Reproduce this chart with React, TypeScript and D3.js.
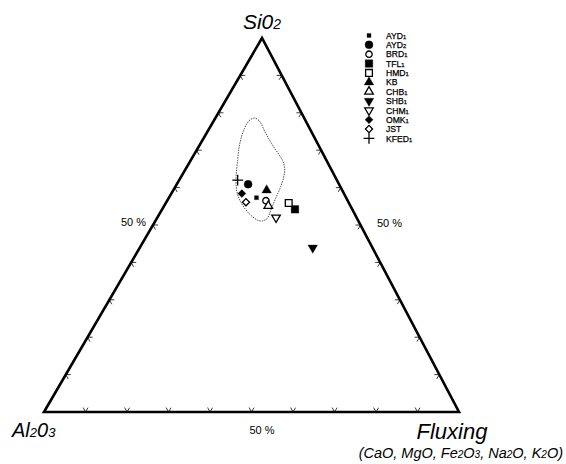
import React from "react";
import * as d3 from "d3";

// samples (legend order) with ternary composition in %
const samples = ["AYD", "AYD", "BRD", "TFL", "HMD", "KB", "CHB", "SHB", "CHM", "OMK", "JST", "KFED"];
const subs = ["1", "2", "1", "1", "1", "", "1", "1", "1", "1", "", "1"];
const sio2 = [57.3, 60.9, 56.5, 54.2, 55.9, 59.3, 55.1, 43.9, 52.0, 58.4, 56.1, 62.0];
const al2o3 = [21.6, 21.9, 19.7, 13.8, 14.5, 18.2, 19.8, 14.4, 19.4, 24.6, 24.7, 23.9];
const flux = [21.1, 17.2, 23.8, 32.0, 29.6, 22.5, 25.1, 41.7, 28.6, 17.0, 19.2, 14.1];

// dotted field outline
const fieldSiO2 = [78.6, 77.9, 74.4, 70.8, 67.3, 65.1, 63.3, 60.2, 57.1, 54.0, 51.8, 51.1, 51.3, 53.1, 55.3, 58.4, 62.0, 67.3, 71.7, 75.7, 77.9];
const fieldFlux = [9.4, 10.9, 14.4, 18.2, 22.1, 23.8, 24.6, 25.4, 25.8, 26.3, 26.6, 25.8, 24.5, 21.5, 18.8, 15.9, 13.7, 11.3, 9.5, 8.5, 8.5];

const tickSteps = [10, 20, 30, 40, 50, 60, 70, 80, 90];

const W = 566, H = 464;
const L = { x: 44, y: 412 }, R = { x: 459, y: 412 }, T = { x: 262, y: 38 };
const k = (T.x - L.x) / (R.x - L.x);
const yScale = d3.scaleLinear().domain([0, 100]).range([L.y, T.y]);
const xScale = d3.scaleLinear().domain([0, 100]).range([L.x, R.x]);
const proj = (s: number, f: number): [number, number] => [xScale(f + s * k), yScale(s)];

type Sym = { type: d3.SymbolType; size: number; filled: boolean; rot?: number };
const syms: Sym[] = [
  { type: d3.symbolSquare, size: 16, filled: true },
  { type: d3.symbolCircle, size: 50, filled: true },
  { type: d3.symbolCircle, size: 32, filled: false },
  { type: d3.symbolSquare, size: 58, filled: true },
  { type: d3.symbolSquare, size: 46, filled: false },
  { type: d3.symbolTriangle, size: 40, filled: true },
  { type: d3.symbolTriangle, size: 32, filled: false },
  { type: d3.symbolTriangle, size: 40, filled: true, rot: 180 },
  { type: d3.symbolTriangle, size: 32, filled: false, rot: 180 },
  { type: d3.symbolSquare, size: 32, filled: true, rot: 45 },
  { type: d3.symbolSquare, size: 26, filled: false, rot: 45 },
  { type: d3.symbolPlus, size: 40, filled: false },
];

function Marker({ x, y, s }: { x: number; y: number; s: Sym }) {
  const d = d3.symbol().type(s.type).size(s.size)()!;
  return (
    <path
      d={d}
      transform={`translate(${x},${y})${s.rot ? ` rotate(${s.rot})` : ""}`}
      fill={s.filled ? "#000" : "#fff"}
      stroke="#000"
      strokeWidth={s.filled ? 0.3 : 1.3}
    />
  );
}

const unit = (a: { x: number; y: number }, b: { x: number; y: number }) => {
  const dx = b.x - a.x, dy = b.y - a.y, n = Math.hypot(dx, dy);
  return [dx / n, dy / n];
};

export default function App() {
  const tl = 5;
  const uLT = unit(L, T), uRT = unit(R, T), uTR = unit(T, R), uTL = unit(T, L);
  const ticks: string[] = [];
  tickSteps.forEach((v) => {
    const [bx, by] = proj(0, v);
    ticks.push(`M${bx + uLT[0] * tl},${by + uLT[1] * tl}L${bx},${by}L${bx + uRT[0] * tl},${by + uRT[1] * tl}`);
    const [lx, ly] = proj(v, 0);
    ticks.push(`M${lx + tl},${ly}L${lx},${ly}L${lx + uTR[0] * tl},${ly + uTR[1] * tl}`);
    const [rx, ry] = proj(v, 100 - v);
    ticks.push(`M${rx - tl},${ry}L${rx},${ry}L${rx + uTL[0] * tl},${ry + uTL[1] * tl}`);
  });

  const field = d3.line().curve(d3.curveCatmullRomClosed)(
    fieldSiO2.map((s, i) => proj(s, fieldFlux[i]))
  )!;

  const font = "'Liberation Sans', Arial, sans-serif";
  const lgX = 369, lgY = 35.5, lgStep = 9.35;

  return (
    <svg width={W} height={H} style={{ position: "absolute", left: 0, top: 0, background: "#fff" }} fontFamily={font}>
      <rect width={W} height={H} fill="#fff" />
      <path d={ticks.join("")} fill="none" stroke="#222" strokeWidth={0.9} />
      <path d={`M${L.x},${L.y}L${T.x},${T.y}L${R.x},${R.y}Z`} fill="none" stroke="#000" strokeWidth={2.6} strokeLinejoin="miter" />
      <path d={field} fill="none" stroke="#333" strokeWidth={0.9} strokeDasharray="1.4 1.1" />

      {samples.map((n, i) => {
        const [x, y] = proj(sio2[i], flux[i]);
        return <Marker key={"p" + i} x={x} y={y} s={syms[i]} />;
      })}

      {samples.map((n, i) => (
        <g key={"l" + i}>
          <Marker x={lgX} y={lgY + i * lgStep} s={syms[i]} />
          <text x={lgX + 17} y={lgY + i * lgStep + 3.2} fontSize={8.6} stroke="#000" strokeWidth={0.25}>
            {n}
            <tspan fontSize={5.8}>{subs[i]}</tspan>
          </text>
        </g>
      ))}

      <text x={T.x} y={29} textAnchor="middle" fontSize={21} fontStyle="italic">
        Si0<tspan fontSize={14}>2</tspan>
      </text>
      <text x={12} y={437} fontSize={20} fontStyle="italic">
        Al<tspan fontSize={13}>2</tspan>0<tspan fontSize={13}>3</tspan>
      </text>
      <text x={452} y={439} textAnchor="middle" fontSize={22} fontStyle="italic">Fluxing</text>
      <text x={563} y={458} textAnchor="end" fontSize={14.5} fontStyle="italic">
        (CaO, MgO, Fe<tspan fontSize={10}>2</tspan>O<tspan fontSize={10}>3</tspan>, Na<tspan fontSize={10}>2</tspan>O, K<tspan fontSize={10}>2</tspan>O)
      </text>
      <text x={262} y={434} textAnchor="middle" fontSize={11}>50 %</text>
      <text x={146} y={226} textAnchor="end" fontSize={11}>50 %</text>
      <text x={377} y={227} fontSize={11}>50 %</text>
    </svg>
  );
}
